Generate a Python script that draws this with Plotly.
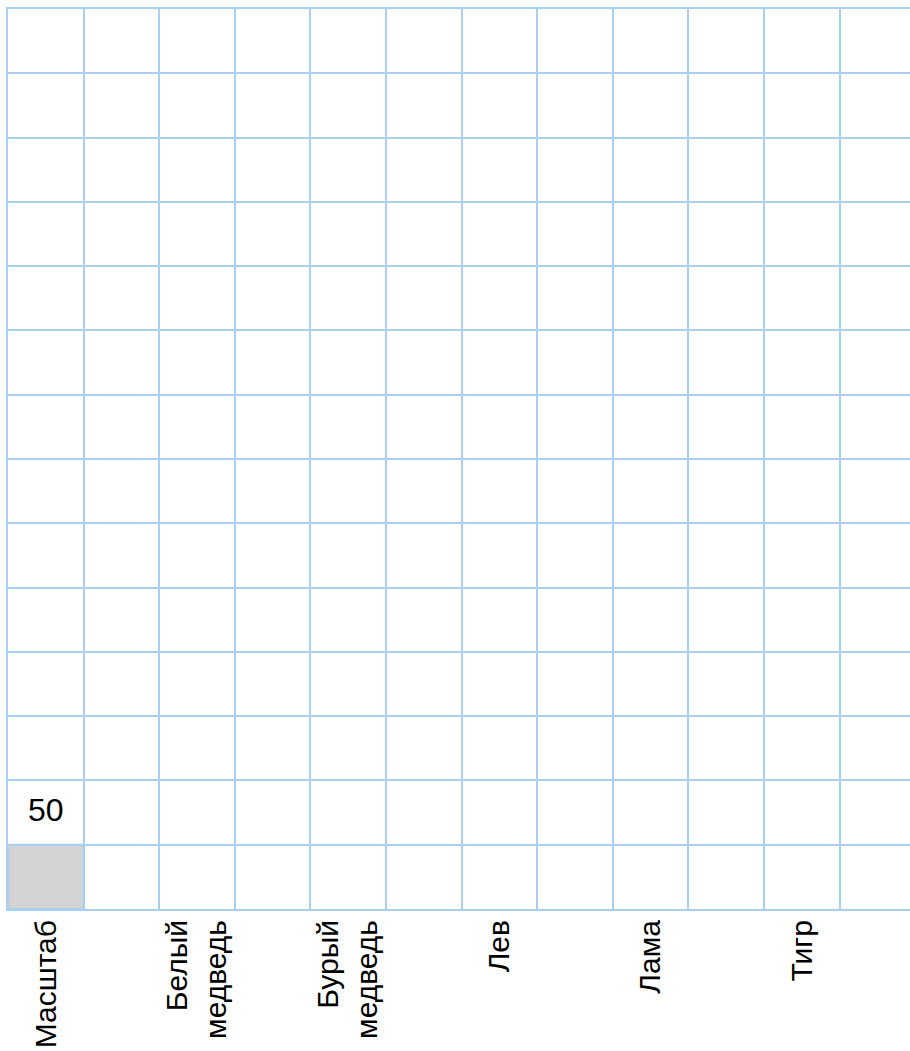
import plotly.graph_objects as go

# Data
categories = ["Масштаб", "Белый<br>медведь", "Бурый<br>медведь", "Лев", "Лама", "Тигр"]
values = [50, None, None, None, None, None]
value_labels = ["50", "", "", "", "", ""]
y_max = 700
y_step = 50
n_columns = 12

GRID = "#a9d0f2"
FONT = "Liberation Sans, Arial, sans-serif"

xs = [2 * i for i in range(len(categories))]

fig = go.Figure()
fig.add_trace(go.Bar(
    x=xs, y=values, width=1,
    marker=dict(color="#d3d3d3", line=dict(color=GRID, width=2)),
    hoverinfo="skip", showlegend=False,
))
fig.add_trace(go.Scatter(
    x=xs,
    y=[(v if v is not None else 0) + y_step / 2 for v in values],
    text=value_labels, mode="text",
    textfont=dict(family=FONT, size=32, color="#000000"),
    textposition="middle center",
    hoverinfo="skip", showlegend=False,
))

fig.update_layout(
    width=910, height=1051,
    margin=dict(l=8, r=0, t=9, b=142),
    paper_bgcolor="white", plot_bgcolor="white",
    bargap=0,
    font=dict(family=FONT, size=30, color="#000000"),
    xaxis=dict(
        range=[-0.5, 11.43],
        tickmode="array", tickvals=xs, ticktext=categories,
        tickangle=-90, ticks="", showgrid=False, zeroline=False,
        showline=True, mirror=True, linecolor=GRID, linewidth=2,
        tickfont=dict(family=FONT, size=30, color="#000000"),
        ticklabelstandoff=-3,
        automargin=False,
        minor=dict(tickmode="linear", tick0=-0.5, dtick=1, showgrid=True,
                   gridcolor=GRID, gridwidth=2, ticks=""),
    ),
    yaxis=dict(
        range=[0, y_max], dtick=y_step, tick0=0,
        showgrid=True, gridcolor=GRID, gridwidth=2,
        showticklabels=False, ticks="", zeroline=False,
        showline=True, linecolor=GRID, linewidth=2,
        automargin=False,
    ),
)

fig.write_html(
    "out.html",
    config={"displayModeBar": False, "staticPlot": True},
    post_script=(
        "document.documentElement.style.overflow='hidden';"
        "document.body.style.margin='0';"
        "document.body.style.overflow='hidden';"
    ),
)
